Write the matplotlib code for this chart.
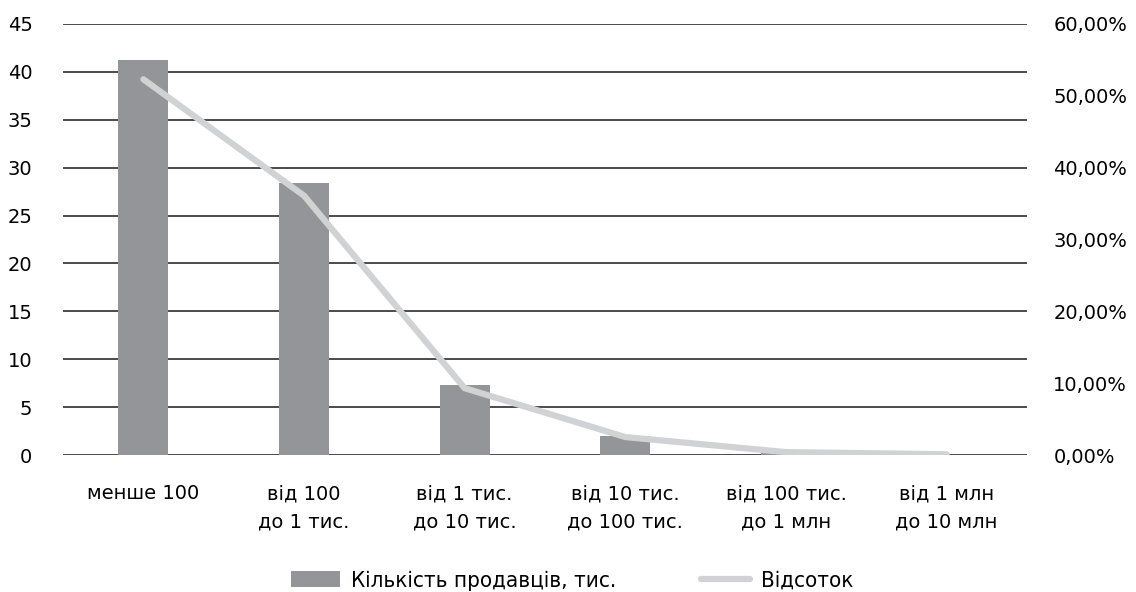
from matplotlib import pyplot as plt
from matplotlib.ticker import FuncFormatter
import numpy as np

CATEGORIES = ['менше 100', 'від 100\nдо 1 тис.', 'від 1 тис.\nдо 10 тис.',
              'від 10 тис.\nдо 100 тис.', 'від 100 тис.\nдо 1 млн', 'від 1 млн\nдо 10 млн']
SELLERS = [41.2, 28.4, 7.3, 2.0, 0.3, 0.05]
PERCENT = [52.3, 36.1, 9.3, 2.5, 0.4, 0.1]

BAR_COLOR = '#939598'
LINE_COLOR = '#d1d2d4'

plt.rcParams['font.family'] = ['DejaVu Sans']


def pct_fmt(v, pos):
    return '{:.2f}%'.format(v).replace('.', ',')


def main():
    fig = plt.figure(figsize=(11.36, 5.92), dpi=100)
    ax = fig.add_axes([0.0555, 0.2314, 0.8485, 0.7281])
    x = np.arange(len(CATEGORIES))

    ax.set_axisbelow(True)
    ax.yaxis.grid(True, color='#1a1a1a', linewidth=1.1)
    bars = ax.bar(x, SELLERS, width=0.31, color=BAR_COLOR, zorder=2)
    ax.set_ylim(0, 45)
    ax.set_yticks(np.arange(0, 50, 5))
    ax.set_xlim(-0.5, len(CATEGORIES) - 0.5)
    ax.set_xticks(x)
    ax.set_xticklabels(CATEGORIES, fontsize=14, linespacing=1.65)
    ax.tick_params(axis='y', length=0, pad=22, labelsize=14)
    ax.tick_params(axis='x', length=0, pad=21)
    for s in ax.spines.values():
        s.set_visible(False)

    ax2 = ax.twinx()
    line, = ax2.plot(x, PERCENT, color=LINE_COLOR, linewidth=4.5,
                     solid_capstyle='round', zorder=3)
    ax2.set_ylim(0, 60)
    ax2.set_yticks(np.arange(0, 70, 10))
    ax2.yaxis.set_major_formatter(FuncFormatter(pct_fmt))
    ax2.tick_params(axis='y', length=0, pad=19, labelsize=14)
    for s in ax2.spines.values():
        s.set_visible(False)

    fig.legend([bars, line], ['Кількість продавців, тис.', 'Відсоток'],
               loc='center', bbox_to_anchor=(572 / 1136, 1 - 581 / 592),
               ncol=2, frameon=False,
               prop={'family': 'DejaVu Sans', 'stretch': 'condensed', 'size': 16},
               columnspacing=3.8, handlelength=2.2, handleheight=0.75,
               handletextpad=0.5)

    fig.savefig('out.png', dpi=100)


if __name__ == '__main__':
    main()
